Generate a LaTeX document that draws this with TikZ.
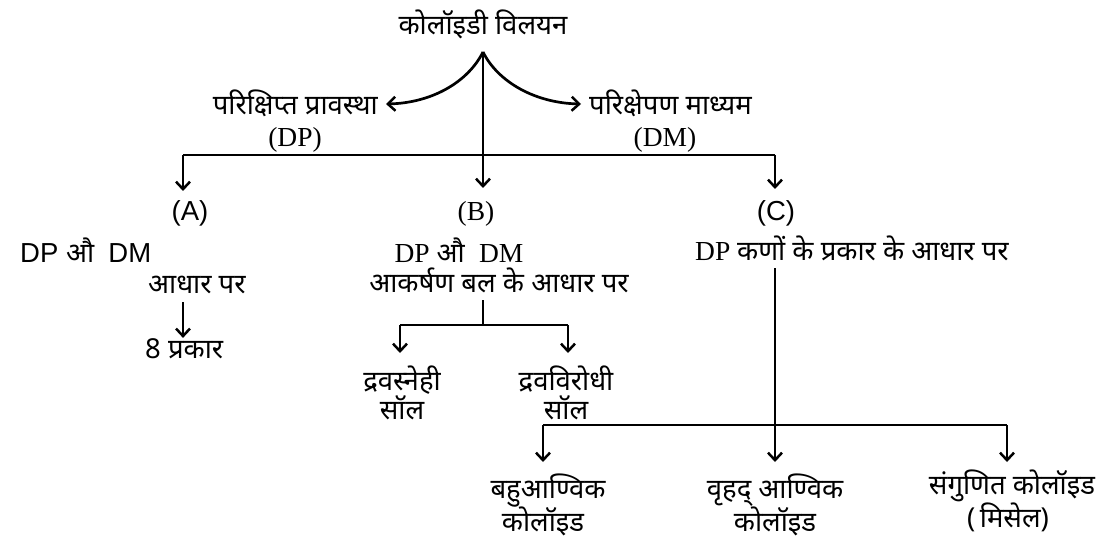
\documentclass[tikz,border=0pt]{standalone}
\usepackage{fontspec}
\setmainfont{Noto Sans}[Script=Devanagari]
\newfontfamily\ser{Liberation Serif}
\newfontfamily\ars{Liberation Sans}
\usetikzlibrary{arrows.meta}
\begin{document}
\begin{tikzpicture}[x=1pt,y=-1pt,
  lbl/.style={anchor=base,inner sep=0pt,font=\fontsize{27.5}{30}\selectfont},
  conn/.style={line width=2.7pt,-{Straight Barb[length=7.5pt,width=14pt,line width=2.5pt]}},
  ln/.style={line width=2.7pt}]
\useasboundingbox (0,0) rectangle (1107,545);
% top
\node[lbl] (title) at (483,35) {कोलॉइडी विलयन};
\coordinate (peak) at (483,52);
\node[lbl,anchor=base east] (dp) at (378,115) {परिक्षिप्त प्रावस्था};
\node[lbl] (dpl) at (295,147) {\ser (DP)};
\node[lbl,anchor=base west] (dm) at (589,115) {परिक्षेपण माध्यम};
\node[lbl] (dml) at (665,147) {\ser (DM)};
\coordinate (dpt) at (386,104);
\coordinate (dmt) at (581,104);
\draw[conn] (peak) .. controls (468,82) and (432,103) .. (dpt);
\draw[conn] (peak) .. controls (498,82) and (535,103) .. (dmt);
% level 1
\node[lbl] (A) at (190,221) {\ars (A)};
\node[lbl] (B) at (476,221) {\ser (B)};
\node[lbl] (C) at (776,221) {\ars (C)};
\coordinate (hl) at (183,155);
\coordinate (hr) at (775,155);
\draw[ln] (hl) -- (hr);
\draw[conn] (hl) -- (183,191);
\draw[conn] (hr) -- (775,189);
\draw[conn] (peak) -- (483,188);
% A
\node[lbl,anchor=base west] (a1) at (20,262) {\ars DP\ \rmfamily औ\ \ \ars DM};
\node[lbl,anchor=base west] (a2) at (148,293) {आधार पर};
\node[lbl,anchor=base west] (a3) at (145,358) {8 प्रकार};
\draw[conn] (183,302) -- (a3.north -| 183,0);
% B
\node[lbl] (b1) at (459,262) {\ser DP\ \rmfamily औ\ \ \ser DM};
\node[lbl] (b2) at (499,292) {आकर्षण बल के आधार पर};
\coordinate (bj) at (483,325);
\coordinate (bl) at (400,325);
\coordinate (br) at (568,325);
\draw[ln] (483,300) -- (bj);
\draw[ln] (bl) -- (br);
\node[lbl] (b3) at (402,390) {द्रवस्नेही};
\node[lbl] (b4) at (402,419) {सॉल};
\node[lbl] (b5) at (566,390) {द्रवविरोधी};
\node[lbl] (b6) at (566,419) {सॉल};
\draw[conn] (bl) -- (400,353);
\draw[conn] (br) -- (568,353);
% C
\node[lbl,anchor=base west] (c1) at (695,260) {\ser DP\ \rmfamily कणों के प्रकार के आधार पर};
\coordinate (cj) at (775,425);
\coordinate (cl) at (543,425);
\coordinate (cr) at (1007,425);
\draw[ln] (cl) -- (cr);
\draw[conn] (775,268) -- (775,462);
\draw[conn] (cl) -- (543,462);
\draw[conn] (cr) -- (1007,462);
\node[lbl] (d1) at (548,498) {बहुआण्विक};
\node[lbl] (d2) at (543,531) {कोलॉइड};
\node[lbl] (e1) at (775,498) {वृहद् आण्विक};
\node[lbl] (e2) at (775,531) {कोलॉइड};
\node[lbl] (f1) at (1012,494) {संगुणित कोलॉइड};
\node[lbl] (f2) at (1008,527) {(\,मिसेल)};
\end{tikzpicture}
\end{document}
